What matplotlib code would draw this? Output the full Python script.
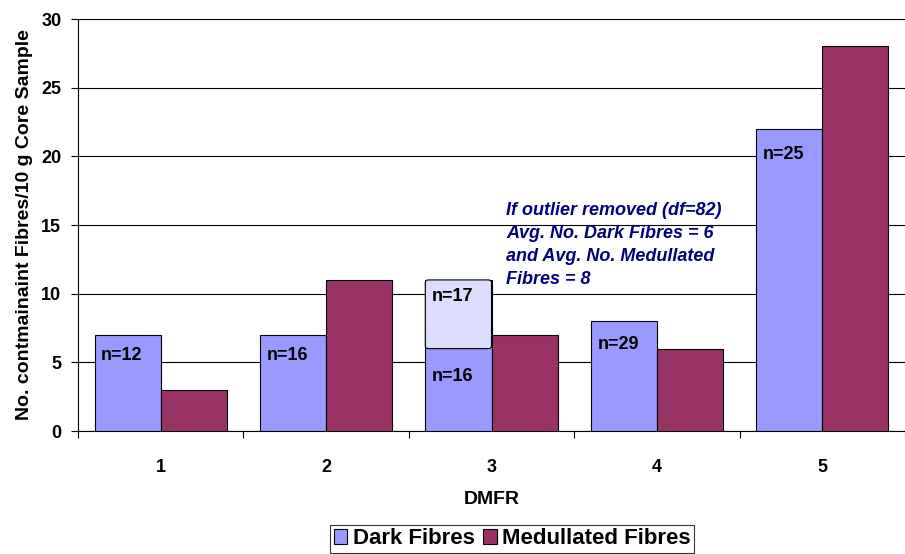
import numpy as np
import matplotlib
matplotlib.use('Agg')
import matplotlib.pyplot as plt
from matplotlib.patches import FancyBboxPatch

categories = ['1', '2', '3', '4', '5']
dark_fibres = [7, 7, 11, 8, 22]
medullated_fibres = [3, 11, 7, 6, 28]
n_labels = ['n=12', 'n=16', 'n=16', 'n=29', 'n=25']
n_label_y = [5.5, 5.5, 4.0, 6.3, 20.1]
# outlier part of the category 3 dark bar (from, to, label, label y)
outlier_cat = 2
outlier_range = (6, 11)
outlier_label = 'n=17'
outlier_label_y = 9.8
note = ('If outlier removed (df=82)\nAvg. No. Dark Fibres = 6\n'
        'and Avg. No. Medullated\nFibres = 8')

plt.rcParams['font.family'] = ['Liberation Sans', 'DejaVu Sans']

fig = plt.figure(figsize=(9.05, 5.54), dpi=100)
ax = fig.add_axes([78 / 905, 123 / 554, 827 / 905, 412 / 554])

x = np.arange(1, len(categories) + 1)
w = 0.4
ax.bar(x - w / 2, dark_fibres, w, color='#9999FF', edgecolor='black', linewidth=0.8,
       label='Dark Fibres', zorder=3)
ax.bar(x + w / 2, medullated_fibres, w, color='#993366', edgecolor='black', linewidth=0.8,
       label='Medullated Fibres', zorder=3)

# light box marking the outlier
bx = x[outlier_cat] - w
box = FancyBboxPatch((bx, outlier_range[0]), w, outlier_range[1] - outlier_range[0],
                     boxstyle='round,pad=0,rounding_size=0.02', mutation_aspect=8,
                     facecolor='#DCDCFF', edgecolor='black', linewidth=0.8, zorder=4)
ax.add_patch(box)
ax.text(bx + 0.04, outlier_label_y, outlier_label, fontsize=13, fontweight='bold',
        ha='left', va='center', zorder=5)

for xi, lab, ly in zip(x, n_labels, n_label_y):
    ax.text(xi - w + 0.04, ly, lab, fontsize=13, fontweight='bold', ha='left',
            va='center', zorder=5)

ax.text(3.09, 16.65, note, fontsize=13, fontweight='bold', fontstyle='italic',
        color='#000080', ha='left', va='top', linespacing=1.45, zorder=5)

ax.set_xlim(0.5, 5.45)
ax.set_ylim(0, 30)
ax.set_yticks(np.arange(0, 31, 5))
ax.yaxis.grid(True, color='black', linewidth=0.8, zorder=0)
ax.set_axisbelow(True)

ax.set_xticks(np.arange(0.5, 5.6, 1.0))
ax.set_xticklabels([])
ax.set_xticks(x, minor=True)
ax.set_xticklabels(categories, minor=True)
ax.tick_params(axis='x', which='minor', length=0, pad=20, labelsize=13)
ax.tick_params(axis='x', which='major', length=5, direction='out')
ax.tick_params(axis='y', length=5, direction='out', labelsize=13, pad=7)
for t in ax.get_xticklabels(minor=True) + ax.get_yticklabels():
    t.set_fontweight('bold')

ax.spines['top'].set_visible(False)
ax.spines['right'].set_visible(False)

ax.set_xlabel('DMFR', fontsize=14, fontweight='bold', labelpad=11)
ax.set_ylabel('No. contmainaint Fibres/10 g Core Sample', fontsize=14,
              fontweight='bold', labelpad=6)

leg = fig.legend(loc='upper center', bbox_to_anchor=(0.566, 29 / 554), ncol=2,
                 prop={'weight': 'bold', 'size': 16}, frameon=True,
                 fancybox=False, edgecolor='black', handlelength=0.6,
                 handleheight=0.6, handletextpad=0.25, columnspacing=0.4,
                 borderpad=0.15, borderaxespad=0)
leg.get_frame().set_linewidth(0.8)

fig.savefig('out.png', dpi=100)
